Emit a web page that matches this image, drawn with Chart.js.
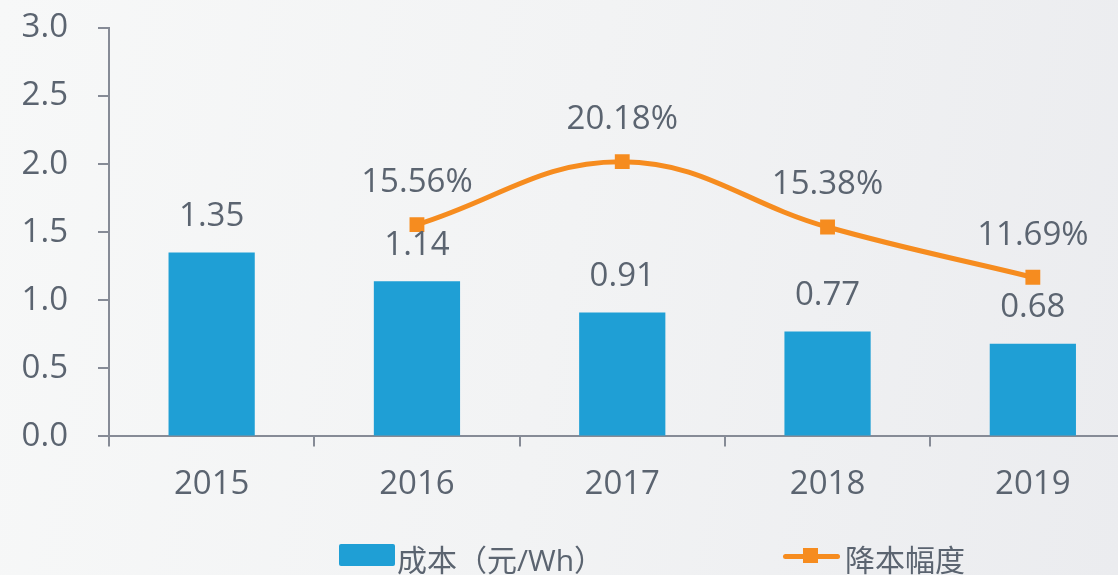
<!DOCTYPE html>
<html>
<head>
<meta charset="utf-8">
<script src="https://cdn.jsdelivr.net/npm/chart.js@4"></script>
<style>
  html, body {
    margin: 0;
    padding: 0;
    width: 1118px;
    height: 575px;
    overflow: hidden;
    background: linear-gradient(100deg, #f7f8f8 0%, #f2f3f4 50%, #ebecef 100%);
    font-family: "Open Sans", "Noto Sans CJK SC", sans-serif;
  }
  #wrap { position: relative; width: 1118px; height: 575px; }
  canvas { position: absolute; left: 0; top: 0; }
  .legend { position: absolute; color: #5b6470; font-size: 30px; line-height: 30px; white-space: nowrap; }
  .box { position: absolute; width: 56px; height: 22px; background: #1f9fd5; border-radius: 2px; }
  .ln { position: absolute; width: 57px; height: 5px; background: #f68c1f; border-radius: 3px; }
  .sq { position: absolute; width: 15px; height: 15px; background: #f68c1f; }
</style>
</head>
<body>
<div id="wrap">
  <canvas id="graphCanvas" width="1146" height="575"></canvas>
  <div class="box" style="left:339px; top:544px;"></div>
  <div class="legend" style="left:397px; top:545px;">成本（元/Wh）</div>
  <div class="ln" style="left:783px; top:554px;"></div>
  <div class="sq" style="left:803px; top:548px;"></div>
  <div class="legend" style="left:845px; top:545px;">降本幅度</div>
</div>
<script>
// data
let years = ['2015', '2016', '2017', '2018', '2019'];
let cost = [1.35, 1.14, 0.91, 0.77, 0.68];        // 成本（元/Wh）
let reduction = [null, 15.56, 20.18, 15.38, 11.69]; // 降本幅度 (%)

// the line sits on the same axis, percent / 10
let reductionPlot = reduction.map(v => v === null ? null : v / 10);

const textColor = '#5b6470';
const axisColor = '#868b96';
const fontSize = 33;

// simple value labels above bars and points
const valueLabels = {
  id: 'valueLabels',
  afterDatasetsDraw(chart) {
    const ctx = chart.ctx;
    ctx.save();
    ctx.fillStyle = textColor;
    ctx.font = fontSize + 'px "Open Sans", "Noto Sans CJK SC", sans-serif';
    ctx.textAlign = 'center';
    ctx.textBaseline = 'middle';
    chart.data.datasets.forEach(function(ds, i) {
      let meta = chart.getDatasetMeta(i);
      meta.data.forEach(function(el, j) {
        if (ds.type === 'line') {
          if (reduction[j] === null) return;
          ctx.fillText(reduction[j].toFixed(2) + '%', el.x, el.y - 42);
        } else {
          ctx.fillText(cost[j].toFixed(2), el.x, el.y - 36);
        }
      });
    });
    ctx.restore();
  }
};

let chartdata = {
  labels: years,
  datasets: [{
    type: 'line',
    label: '降本幅度',
    data: reductionPlot,
    borderColor: '#f68c1f',
    backgroundColor: '#f68c1f',
    borderWidth: 5,
    tension: 0.4,
    pointStyle: 'rect',
    pointRadius: 10.5,
    pointBorderWidth: 0,
    fill: false,
    spanGaps: false,
    order: 0
  }, {
    type: 'bar',
    label: '成本（元/Wh）',
    data: cost,
    backgroundColor: '#1f9fd5',
    borderWidth: 0,
    categoryPercentage: 1,
    barPercentage: 0.42,
    order: 1
  }]
};

new Chart(document.getElementById('graphCanvas'), {
  data: chartdata,
  plugins: [valueLabels],
  options: {
    responsive: false,
    animation: false,
    layout: { padding: { top: 28, right: 6, bottom: 53, left: 0 } },
    plugins: {
      legend: { display: false },
      tooltip: { enabled: false }
    },
    scales: {
      x: {
        offset: true,
        grid: { display: true, drawOnChartArea: false, offset: true, color: axisColor, lineWidth: 2, tickLength: 10 },
        border: { color: axisColor, width: 2 },
        ticks: { color: textColor, padding: 18, font: { family: '"Open Sans", sans-serif', size: fontSize } }
      },
      y: {
        min: 0,
        max: 3,
        afterFit(scale) {
          scale.width = 109;
          scale.paddingTop = 0;
          scale.paddingBottom = 0;
        },
        grid: { drawOnChartArea: false, color: axisColor, lineWidth: 2, tickLength: 11 },
        border: { color: axisColor, width: 2 },
        ticks: {
          stepSize: 0.5,
          color: textColor,
          padding: 30,
          font: { family: '"Open Sans", sans-serif', size: fontSize },
          callback: v => v.toFixed(1)
        }
      }
    }
  }
});
</script>
</body>
</html>
